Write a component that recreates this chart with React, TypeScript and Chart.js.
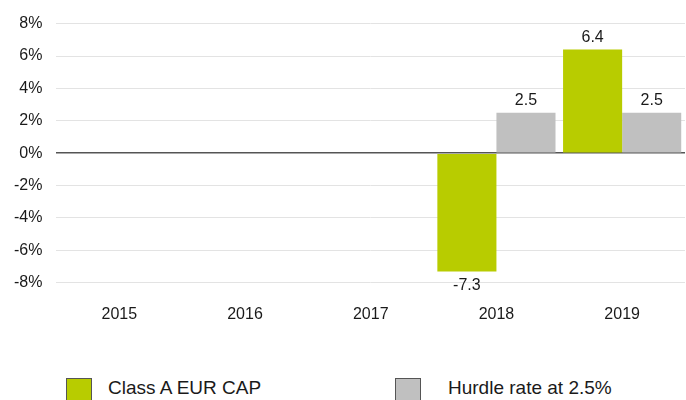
import React, { useEffect, useRef } from "react";
import { Chart, registerables } from "chart.js";

Chart.register(...registerables);

const categories = ["2015", "2016", "2017", "2018", "2019"];
const classAValues: (number | null)[] = [null, null, null, -7.3, 6.4];
const hurdleValues: (number | null)[] = [null, null, null, 2.5, 2.5];
const seriesNames = ["Class A EUR CAP", "Hurdle rate at 2.5%"];
const yTicks = [-8, -6, -4, -2, 0, 2, 4, 6, 8];

const GREEN = "#b8cc00";
const GREY = "#c0c0c0";
const FONT = "'Liberation Sans', Arial, Helvetica, sans-serif";

const valueLabels = {
  id: "valueLabels",
  afterDatasetsDraw(chart: any) {
    const ctx = chart.ctx;
    ctx.save();
    ctx.font = `16px ${FONT}`;
    ctx.fillStyle = "#1a1a1a";
    ctx.textAlign = "center";
    chart.data.datasets.forEach((ds: any, di: number) => {
      const meta = chart.getDatasetMeta(di);
      meta.data.forEach((bar: any, i: number) => {
        const v = ds.data[i];
        if (v === null || v === undefined) return;
        if (v >= 0) {
          ctx.textBaseline = "bottom";
          ctx.fillText(String(v), bar.x, bar.y - 4);
        } else {
          ctx.textBaseline = "top";
          ctx.fillText(String(v), bar.x, bar.y + 6);
        }
      });
    });
    ctx.restore();
  },
};

function App() {
  const ref = useRef<HTMLCanvasElement>(null);
  useEffect(() => {
    document.body.style.margin = "0";
    const chart = new Chart(ref.current!, {
      type: "bar",
      data: {
        labels: categories,
        datasets: [
          { label: seriesNames[0], data: classAValues, backgroundColor: GREEN },
          { label: seriesNames[1], data: hurdleValues, backgroundColor: GREY },
        ],
      },
      options: {
        animation: false,
        responsive: false,
        maintainAspectRatio: false,
        layout: { padding: { top: 14, right: 1, left: 0, bottom: 0 } },
        plugins: { legend: { display: false }, tooltip: { enabled: false } },
        datasets: { bar: { categoryPercentage: 0.94, barPercentage: 1 } },
        scales: {
          x: {
            grid: { display: false },
            border: { display: false },
            ticks: { color: "#1a1a1a", font: { family: FONT, size: 16 }, padding: 14, maxRotation: 0 },
          },
          y: {
            min: -8,
            max: 8,
            afterBuildTicks: (axis: any) => {
              axis.ticks = yTicks.map((v) => ({ value: v }));
            },
            grid: {
              color: (c: any) => (c.tick && c.tick.value === 0 ? "#555555" : "#e3e3e3"),
              lineWidth: (c: any) => (c.tick && c.tick.value === 0 ? 1.5 : 1),
              drawTicks: false,
            },
            border: { display: false },
            ticks: {
              color: "#1a1a1a",
              font: { family: FONT, size: 16 },
              padding: 14,
              callback: (v: any) => `${v}%`,
            },
          },
        },
      },
      plugins: [valueLabels],
    });
    return () => chart.destroy();
  }, []);

  const legendItem = (left: number, color: string, text: string, textLeft: number) => (
    <>
      <div
        style={{
          position: "absolute",
          left,
          top: 378,
          width: 24,
          height: 22,
          background: color,
          border: "1px solid #555",
        }}
      />
      <div
        style={{
          position: "absolute",
          left: textLeft,
          top: 377,
          fontFamily: FONT,
          fontSize: 19,
          color: "#1a1a1a",
          whiteSpace: "nowrap",
        }}
      >
        {text}
      </div>
    </>
  );

  return (
    <div style={{ position: "relative", width: 686, height: 400, overflow: "hidden", background: "#fff" }}>
      <canvas ref={ref} width={686} height={338} style={{ position: "absolute", left: 0, top: 0 }} />
      {legendItem(66, GREEN, seriesNames[0], 108)}
      {legendItem(395, GREY, seriesNames[1], 448)}
    </div>
  );
}

export default App;
